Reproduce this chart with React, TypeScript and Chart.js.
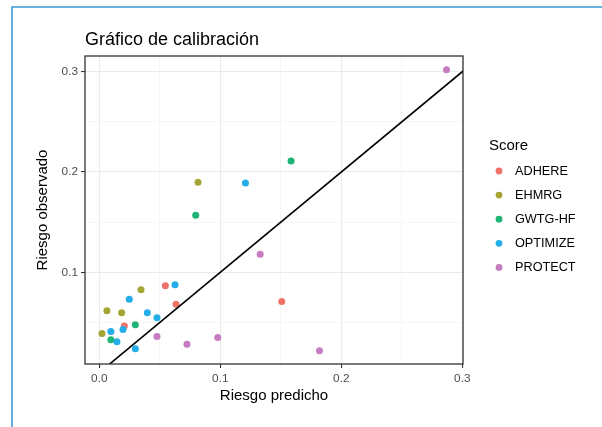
import React, { useEffect, useRef } from "react";
import { Chart, registerables } from "chart.js";

Chart.register(...registerables);

// ---- data ----
const scoreNames = ["ADHERE", "EHMRG", "GWTG-HF", "OPTIMIZE", "PROTECT"];
const scoreColors = ["#F0736B", "#A5A536", "#1DB574", "#24AEE8", "#C77CC2"];

const adherePred = [0.0546, 0.0634, 0.1508, 0.0207];
const adhereObs = [0.0867, 0.0681, 0.0708, 0.0465];

const ehmrgPred = [0.0816, 0.0345, 0.0063, 0.0185, 0.0022];
const ehmrgObs = [0.1897, 0.0827, 0.0618, 0.0598, 0.0389];

const gwtgPred = [0.1585, 0.0797, 0.0298, 0.0096];
const gwtgObs = [0.211, 0.1568, 0.0478, 0.0329];

const optimizePred = [0.1208, 0.0626, 0.0248, 0.0397, 0.0477, 0.0096, 0.0196, 0.0146, 0.0298];
const optimizeObs = [0.189, 0.0877, 0.0731, 0.0598, 0.0548, 0.0409, 0.0429, 0.0309, 0.0239];

const protectPred = [0.287, 0.133, 0.0477, 0.0725, 0.0979, 0.182];
const protectObs = [0.302, 0.118, 0.0359, 0.0282, 0.0349, 0.0219];

const predLists = [adherePred, ehmrgPred, gwtgPred, optimizePred, protectPred];
const obsLists = [adhereObs, ehmrgObs, gwtgObs, optimizeObs, protectObs];

const refLine = [0, 0.35]; // identity line y = x

const xTickValues = [0, 0.05, 0.1, 0.15, 0.2, 0.25, 0.3];
const xTickLabels = ["0.0", "", "0.1", "", "0.2", "", "0.3"];
const yTickValues = [0.05, 0.1, 0.15, 0.2, 0.25, 0.3];
const yTickLabels = ["", "0.1", "", "0.2", "", "0.3"];

const xLimits = [-0.0118, 0.3006];
const yLimits = [0.0086, 0.3157];

const titleText = "Gráfico de calibración";
const xTitle = "Riesgo predicho";
const yTitle = "Riesgo observado";
const legendTitle = "Score";

const FONT = '"Liberation Sans", Arial, Helvetica, sans-serif';

function labelFor(values: number[], labels: string[], v: number) {
  for (let i = 0; i < values.length; i++) {
    if (Math.abs(values[i] - v) < 1e-6) return labels[i];
  }
  return "";
}

function isMajor(values: number[], labels: string[], v: number) {
  return labelFor(values, labels, v) !== "";
}

const framePlugin = {
  id: "framePlugin",
  beforeDraw(chart: any) {
    const { ctx, width, height } = chart;
    ctx.save();
    ctx.fillStyle = "#FFFFFF";
    ctx.fillRect(0, 0, width, height);
    ctx.strokeStyle = "#3B9AD5";
    ctx.lineWidth = 1.6;
    ctx.beginPath();
    ctx.moveTo(width, 7);
    ctx.lineTo(12, 7);
    ctx.lineTo(12, height);
    ctx.stroke();
    ctx.restore();
  },
  afterDraw(chart: any) {
    const { ctx, chartArea } = chart;
    ctx.save();
    // panel border
    ctx.strokeStyle = "#333333";
    ctx.lineWidth = 1.3;
    ctx.strokeRect(chartArea.left, chartArea.top, chartArea.right - chartArea.left, chartArea.bottom - chartArea.top);
    // legend
    const x0 = chartArea.right + 26;
    ctx.fillStyle = "#000000";
    ctx.textBaseline = "middle";
    ctx.textAlign = "left";
    ctx.font = `15px ${FONT}`;
    ctx.fillText(legendTitle, x0, chartArea.top + 90);
    ctx.font = `12.7px ${FONT}`;
    const dsList = chart.data.datasets.filter((d: any) => d.isScore);
    dsList.forEach((d: any, i: number) => {
      const y = chartArea.top + 115 + i * 24.1;
      ctx.fillStyle = d.backgroundColor;
      ctx.beginPath();
      ctx.arc(x0 + 10, y, 3.4, 0, Math.PI * 2);
      ctx.fill();
      ctx.fillStyle = "#000000";
      ctx.fillText(d.label, x0 + 26, y);
    });
    ctx.restore();
  },
};

export default function App() {
  const canvasRef = useRef<HTMLCanvasElement | null>(null);

  useEffect(() => {
    if (!canvasRef.current) return;
    document.body.style.margin = "0";

    const scoreDatasets = scoreNames.map((name, i) => ({
      type: "scatter" as const,
      label: name,
      isScore: true,
      data: predLists[i].map((p, j) => ({ x: p, y: obsLists[i][j] })),
      backgroundColor: scoreColors[i],
      borderColor: scoreColors[i],
      borderWidth: 0,
      pointRadius: 3.5,
      pointHoverRadius: 3.5,
      pointBorderWidth: 0,
      order: 10 - i,
    }));

    const lineDataset = {
      type: "line" as const,
      label: "identity",
      isScore: false,
      data: refLine.map((v) => ({ x: v, y: v })),
      borderColor: "#000000",
      borderWidth: 1.6,
      pointRadius: 0,
      fill: false,
      tension: 0,
      order: 0,
    };

    const chart = new Chart(canvasRef.current, {
      type: "scatter",
      data: { datasets: [...scoreDatasets, lineDataset] as any },
      options: {
        animation: false,
        responsive: false,
        maintainAspectRatio: false,
        layout: { padding: { left: 30, right: 139, top: 29.6, bottom: 18 } },
        plugins: {
          legend: { display: false },
          tooltip: { enabled: false },
          title: {
            display: true,
            text: titleText,
            align: "start",
            fullSize: false,
            color: "#000000",
            font: { family: FONT, size: 18, weight: "normal" },
            padding: { top: 0, bottom: 4.8 },
          },
        },
        scales: {
          x: {
            type: "linear",
            min: xLimits[0],
            max: xLimits[1],
            afterBuildTicks: (s: any) => {
              s.ticks = xTickValues.map((v) => ({ value: v }));
            },
            afterFit: (s: any) => {
              s.height = 45;
            },
            ticks: {
              autoSkip: false,
              maxRotation: 0,
              padding: 3.5,
              color: "#4D4D4D",
              font: { family: FONT, size: 11.8 },
              callback: (v: any) => labelFor(xTickValues, xTickLabels, Number(v)),
            },
            grid: {
              color: (c: any) =>
                c.tick && isMajor(xTickValues, xTickLabels, c.tick.value) ? "#EBEBEB" : "#F4F4F4",
              lineWidth: (c: any) =>
                c.tick && isMajor(xTickValues, xTickLabels, c.tick.value) ? 1.1 : 0.8,
              tickLength: 4,
              tickColor: (c: any) =>
                c.tick && isMajor(xTickValues, xTickLabels, c.tick.value) ? "#333333" : "rgba(0,0,0,0)",
              tickWidth: 1.1,
            },
            border: { display: false },
            title: {
              display: true,
              text: xTitle,
              color: "#000000",
              font: { family: FONT, size: 15 },
              padding: { top: 4, bottom: 4 },
            },
          },
          y: {
            type: "linear",
            min: yLimits[0],
            max: yLimits[1],
            afterBuildTicks: (s: any) => {
              s.ticks = yTickValues.map((v) => ({ value: v }));
            },
            afterFit: (s: any) => {
              s.width = 55;
            },
            ticks: {
              autoSkip: false,
              padding: 3,
              color: "#4D4D4D",
              font: { family: FONT, size: 11.8 },
              callback: (v: any) => labelFor(yTickValues, yTickLabels, Number(v)),
            },
            grid: {
              color: (c: any) =>
                c.tick && isMajor(yTickValues, yTickLabels, c.tick.value) ? "#EBEBEB" : "#F4F4F4",
              lineWidth: (c: any) =>
                c.tick && isMajor(yTickValues, yTickLabels, c.tick.value) ? 1.1 : 0.8,
              tickLength: 4,
              tickColor: (c: any) =>
                c.tick && isMajor(yTickValues, yTickLabels, c.tick.value) ? "#333333" : "rgba(0,0,0,0)",
              tickWidth: 1.1,
            },
            border: { display: false },
            title: {
              display: true,
              text: yTitle,
              color: "#000000",
              font: { family: FONT, size: 15 },
              padding: { top: 4, bottom: 4 },
            },
          },
        },
      } as any,
      plugins: [framePlugin],
    });

    return () => {
      chart.destroy();
    };
  }, []);

  return (
    <div style={{ position: "fixed", left: 0, top: 0, width: 602, height: 427 }}>
      <canvas ref={canvasRef} width={602} height={427} style={{ width: 602, height: 427, display: "block" }} />
    </div>
  );
}
